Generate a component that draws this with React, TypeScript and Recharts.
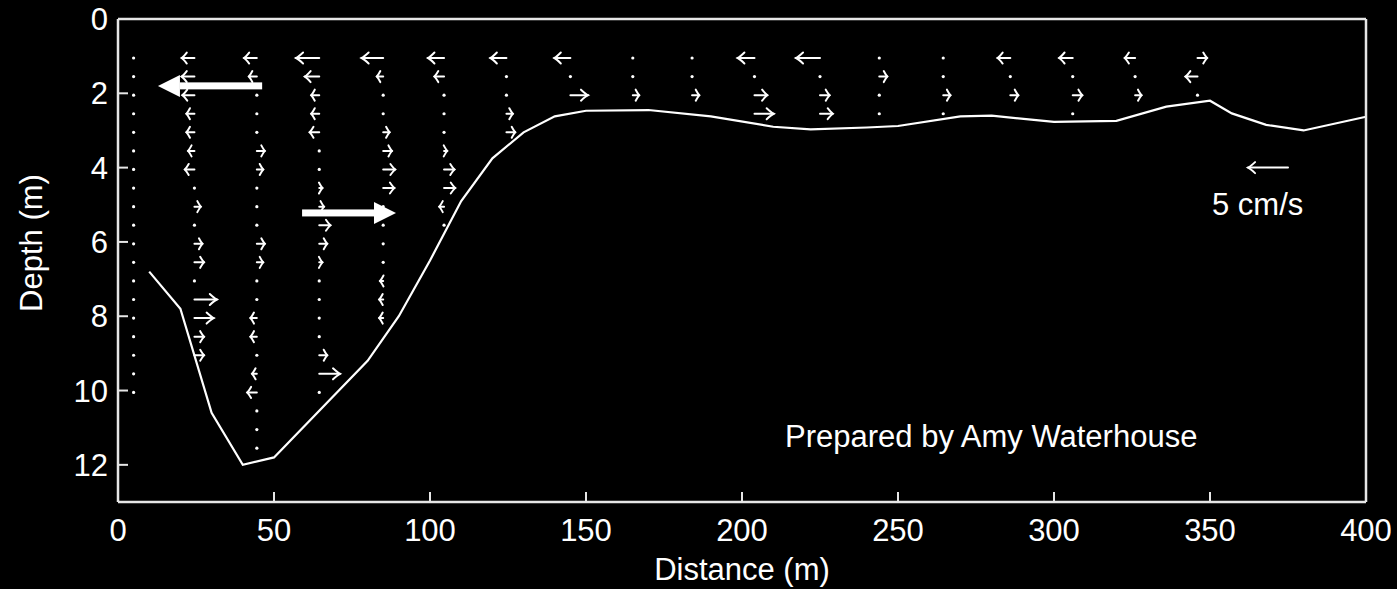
import React from 'react';
import { ComposedChart, Line, ReferenceLine, XAxis, YAxis } from 'recharts';

const INK = '#ffffff';
const AXIS_INK = '#e6e6e6';
const FONT = '"Liberation Sans", Arial, Helvetica, sans-serif';

const DISTANCE_TICKS = [0, 50, 100, 150, 200, 250, 300, 350, 400];
const DEPTH_TICKS = [0, 2, 4, 6, 8, 10, 12];

// channel bed (m)
const BED_DISTANCE = [10, 20, 30, 40, 50, 80, 90, 100, 110, 120, 130, 140, 150, 170, 190, 210, 222, 240, 250, 270, 280, 300, 320, 336, 350, 357, 368, 380, 400];
const BED_DEPTH = [6.8, 7.8, 10.6, 12.0, 11.8, 9.2, 8.0, 6.5, 4.9, 3.75, 3.05, 2.62, 2.47, 2.45, 2.62, 2.9, 2.97, 2.92, 2.88, 2.62, 2.6, 2.77, 2.74, 2.36, 2.2, 2.54, 2.85, 3.0, 2.63];

// ADCP bins and profiles, u in cm/s (+ = right)
const BIN_DEPTHS = [1.05, 1.55, 2.05, 2.55, 3.05, 3.55, 4.05, 4.55, 5.05, 5.55, 6.05, 6.55, 7.05, 7.55, 8.05, 8.55, 9.05, 9.55, 10.05, 10.55, 11.05, 11.55];
const PROFILE_X = [5, 24.5, 44.5, 64.5, 85, 104.5, 124.5, 145, 165, 184, 204, 225, 244, 264.5, 286, 306, 326, 346];
const PROFILE_U = [
  [0, 0, 0, 0, 0, 0, 0, 0, 0, 0, 0, 0, 0, 0, 0, 0, 0, 0, 0],
  [-1.6, -1.6, -1.5, -1.0, -1.0, -0.8, -1.2, 0.1, 0.8, 0.3, 1.0, 1.2, 0.2, 2.8, 2.4, 1.2, 1.2],
  [-1.6, -1.0, 0.2, -0.3, -0.3, 1.0, 0.8, 0.1, 0, 0, 1.0, 0.8, 0.1, 0.3, -0.8, -0.8, -0.3, -0.6, -1.2, 0.2, 0, 0],
  [-2.9, -1.8, -1.0, -1.0, -1.2, 0.1, 0.2, 0.4, 0.6, 1.4, 1.0, 0.4, 0.3, 0, 0.2, 0, 1.0, 2.6, 0],
  [-2.7, -0.8, 0.1, -0.1, 0.8, 1.1, 1.5, 1.4, 0.2, 0.2, 0.1, 0.1, -0.4, -0.5, -0.5],
  [-2.0, -1.2, 0.1, 0.2, 0.1, 0.4, 1.3, 1.4, -0.6, 0],
  [-2.0, 0.1, 0.2, 0.8, 1.1],
  [-2.0, 0, 2.2],
  [0.2, 0, 0.8],
  [0.2, 0, 0.9],
  [-2.1, 0.2, 1.6, 2.4],
  [-3.0, 0, 1.2, 1.6],
  [0.1, 1.0, 0.1, 0.3],
  [0.2, 0, 0.9, 0],
  [-1.6, 0, 1.0],
  [-1.7, 0, 1.2, 0],
  [-1.3, 0, 0.8],
  [1.2, -1.5, 0],
];

const METERS_PER_CMS = 2.56;
const SCALE_ARROW = { distance: 375, depth: 4.0, u: -5 };

// hand drawn flow arrows
const FLOW_FROM = [46.2, 59];
const FLOW_TO = [12.8, 89.1];
const FLOW_DEPTH = [1.8, 5.22];

const bedData = BED_DISTANCE.map((d, i) => ({ distance: d, depth: BED_DEPTH[i] }));

const vectors = PROFILE_X.flatMap((x, i) =>
  PROFILE_U[i].map((u, j) => ({ x, depth: BIN_DEPTHS[j], u })),
);

function QuiverArrow(props: any) {
  const { x1, y1, x2 } = props;
  const len = x2 - x1;
  if (Math.abs(len) < 3) {
    return <circle cx={x1} cy={y1} r={1.6} fill={INK} />;
  }
  const dir = Math.sign(len);
  const head = Math.min(7, Math.max(3.5, Math.abs(len) * 0.4));
  return (
    <g stroke={INK} strokeWidth={2} fill="none" strokeLinecap="round">
      <line x1={x1} y1={y1} x2={x2} y2={y1} />
      <path d={`M${x2 - dir * head},${y1 - 5.5} Q${x2 - dir * head * 0.3},${y1 - 1} ${x2},${y1} Q${x2 - dir * head * 0.3},${y1 + 1} ${x2 - dir * head},${y1 + 5.5}`} />
    </g>
  );
}

function FlowArrow(props: any) {
  const { x1, y1, x2 } = props;
  const dir = Math.sign(x2 - x1);
  const base = x2 - dir * 22;
  return (
    <g fill={INK}>
      <rect x={Math.min(x1, base)} y={y1 - 3.5} width={Math.abs(base - x1)} height={7} />
      <polygon points={`${x2},${y1} ${base},${y1 - 11} ${base},${y1 + 11}`} />
    </g>
  );
}

const tickStyle = { fill: INK, fontSize: 31, fontFamily: FONT };

export default function App() {
  return (
    <div style={{ position: 'absolute', left: 0, top: 0, width: 1397, height: 589, background: '#000' }}>
      <ComposedChart
        width={1397}
        height={589}
        data={bedData}
        margin={{ top: 18, right: 30, bottom: 0, left: 28 }}
      >
        <XAxis
          type="number"
          dataKey="distance"
          domain={[0, 400]}
          ticks={DISTANCE_TICKS}
          interval={0}
          height={87}
          tickSize={-10}
          tickMargin={27}
          tick={tickStyle}
          axisLine={{ stroke: AXIS_INK, strokeWidth: 2.5 }}
          tickLine={{ stroke: AXIS_INK, strokeWidth: 2 }}
        />
        <XAxis
          xAxisId="top"
          orientation="top"
          type="number"
          dataKey="distance"
          domain={[0, 400]}
          ticks={DISTANCE_TICKS}
          interval={0}
          height={1}
          tickSize={-10}
          tick={false}
          axisLine={{ stroke: AXIS_INK, strokeWidth: 2.5 }}
          tickLine={{ stroke: AXIS_INK, strokeWidth: 2 }}
        />
        <YAxis
          type="number"
          domain={[0, 13]}
          reversed
          ticks={DEPTH_TICKS}
          interval={0}
          width={90}
          tickSize={-10}
          tickMargin={20}
          tick={tickStyle}
          axisLine={{ stroke: AXIS_INK, strokeWidth: 2.5 }}
          tickLine={{ stroke: AXIS_INK, strokeWidth: 2 }}
        />
        <YAxis
          yAxisId="right"
          orientation="right"
          type="number"
          domain={[0, 13]}
          reversed
          ticks={DEPTH_TICKS}
          interval={0}
          width={1}
          tickSize={-10}
          tick={false}
          axisLine={{ stroke: AXIS_INK, strokeWidth: 2.5 }}
          tickLine={{ stroke: AXIS_INK, strokeWidth: 2 }}
        />
        {/* same bed bound to the frame axes so they get a domain */}
        <Line
          xAxisId="top"
          yAxisId="right"
          type="linear"
          dataKey="depth"
          stroke="none"
          dot={false}
          activeDot={false}
          legendType="none"
          isAnimationActive={false}
        />
        <Line
          type="linear"
          dataKey="depth"
          stroke={INK}
          strokeWidth={2.2}
          dot={false}
          activeDot={false}
          isAnimationActive={false}
        />
        {vectors.map((v, i) => (
          <ReferenceLine
            key={`v${i}`}
            ifOverflow="visible"
            segment={[
              { x: v.x, y: v.depth },
              { x: v.x + v.u * METERS_PER_CMS, y: v.depth },
            ]}
            shape={QuiverArrow}
          />
        ))}
        <ReferenceLine
          ifOverflow="visible"
          segment={[
            { x: SCALE_ARROW.distance, y: SCALE_ARROW.depth },
            { x: SCALE_ARROW.distance + SCALE_ARROW.u * METERS_PER_CMS, y: SCALE_ARROW.depth },
          ]}
          shape={QuiverArrow}
        />
        {FLOW_FROM.map((from, i) => (
          <ReferenceLine
            key={`f${i}`}
            ifOverflow="visible"
            segment={[
              { x: from, y: FLOW_DEPTH[i] },
              { x: FLOW_TO[i], y: FLOW_DEPTH[i] },
            ]}
            shape={FlowArrow}
          />
        ))}
      </ComposedChart>
      <svg
        width={1397}
        height={589}
        style={{ position: 'absolute', left: 0, top: 0, pointerEvents: 'none' }}
        fontFamily={FONT}
        fontSize={31}
        fill={INK}
      >
        <text x={742} y={580} textAnchor="middle">Distance (m)</text>
        <text transform="translate(42,243) rotate(-90)" textAnchor="middle">Depth (m)</text>
        <text x={1212} y={215}>5 cm/s</text>
        <text x={785} y={447}>Prepared by Amy Waterhouse</text>
      </svg>
    </div>
  );
}
